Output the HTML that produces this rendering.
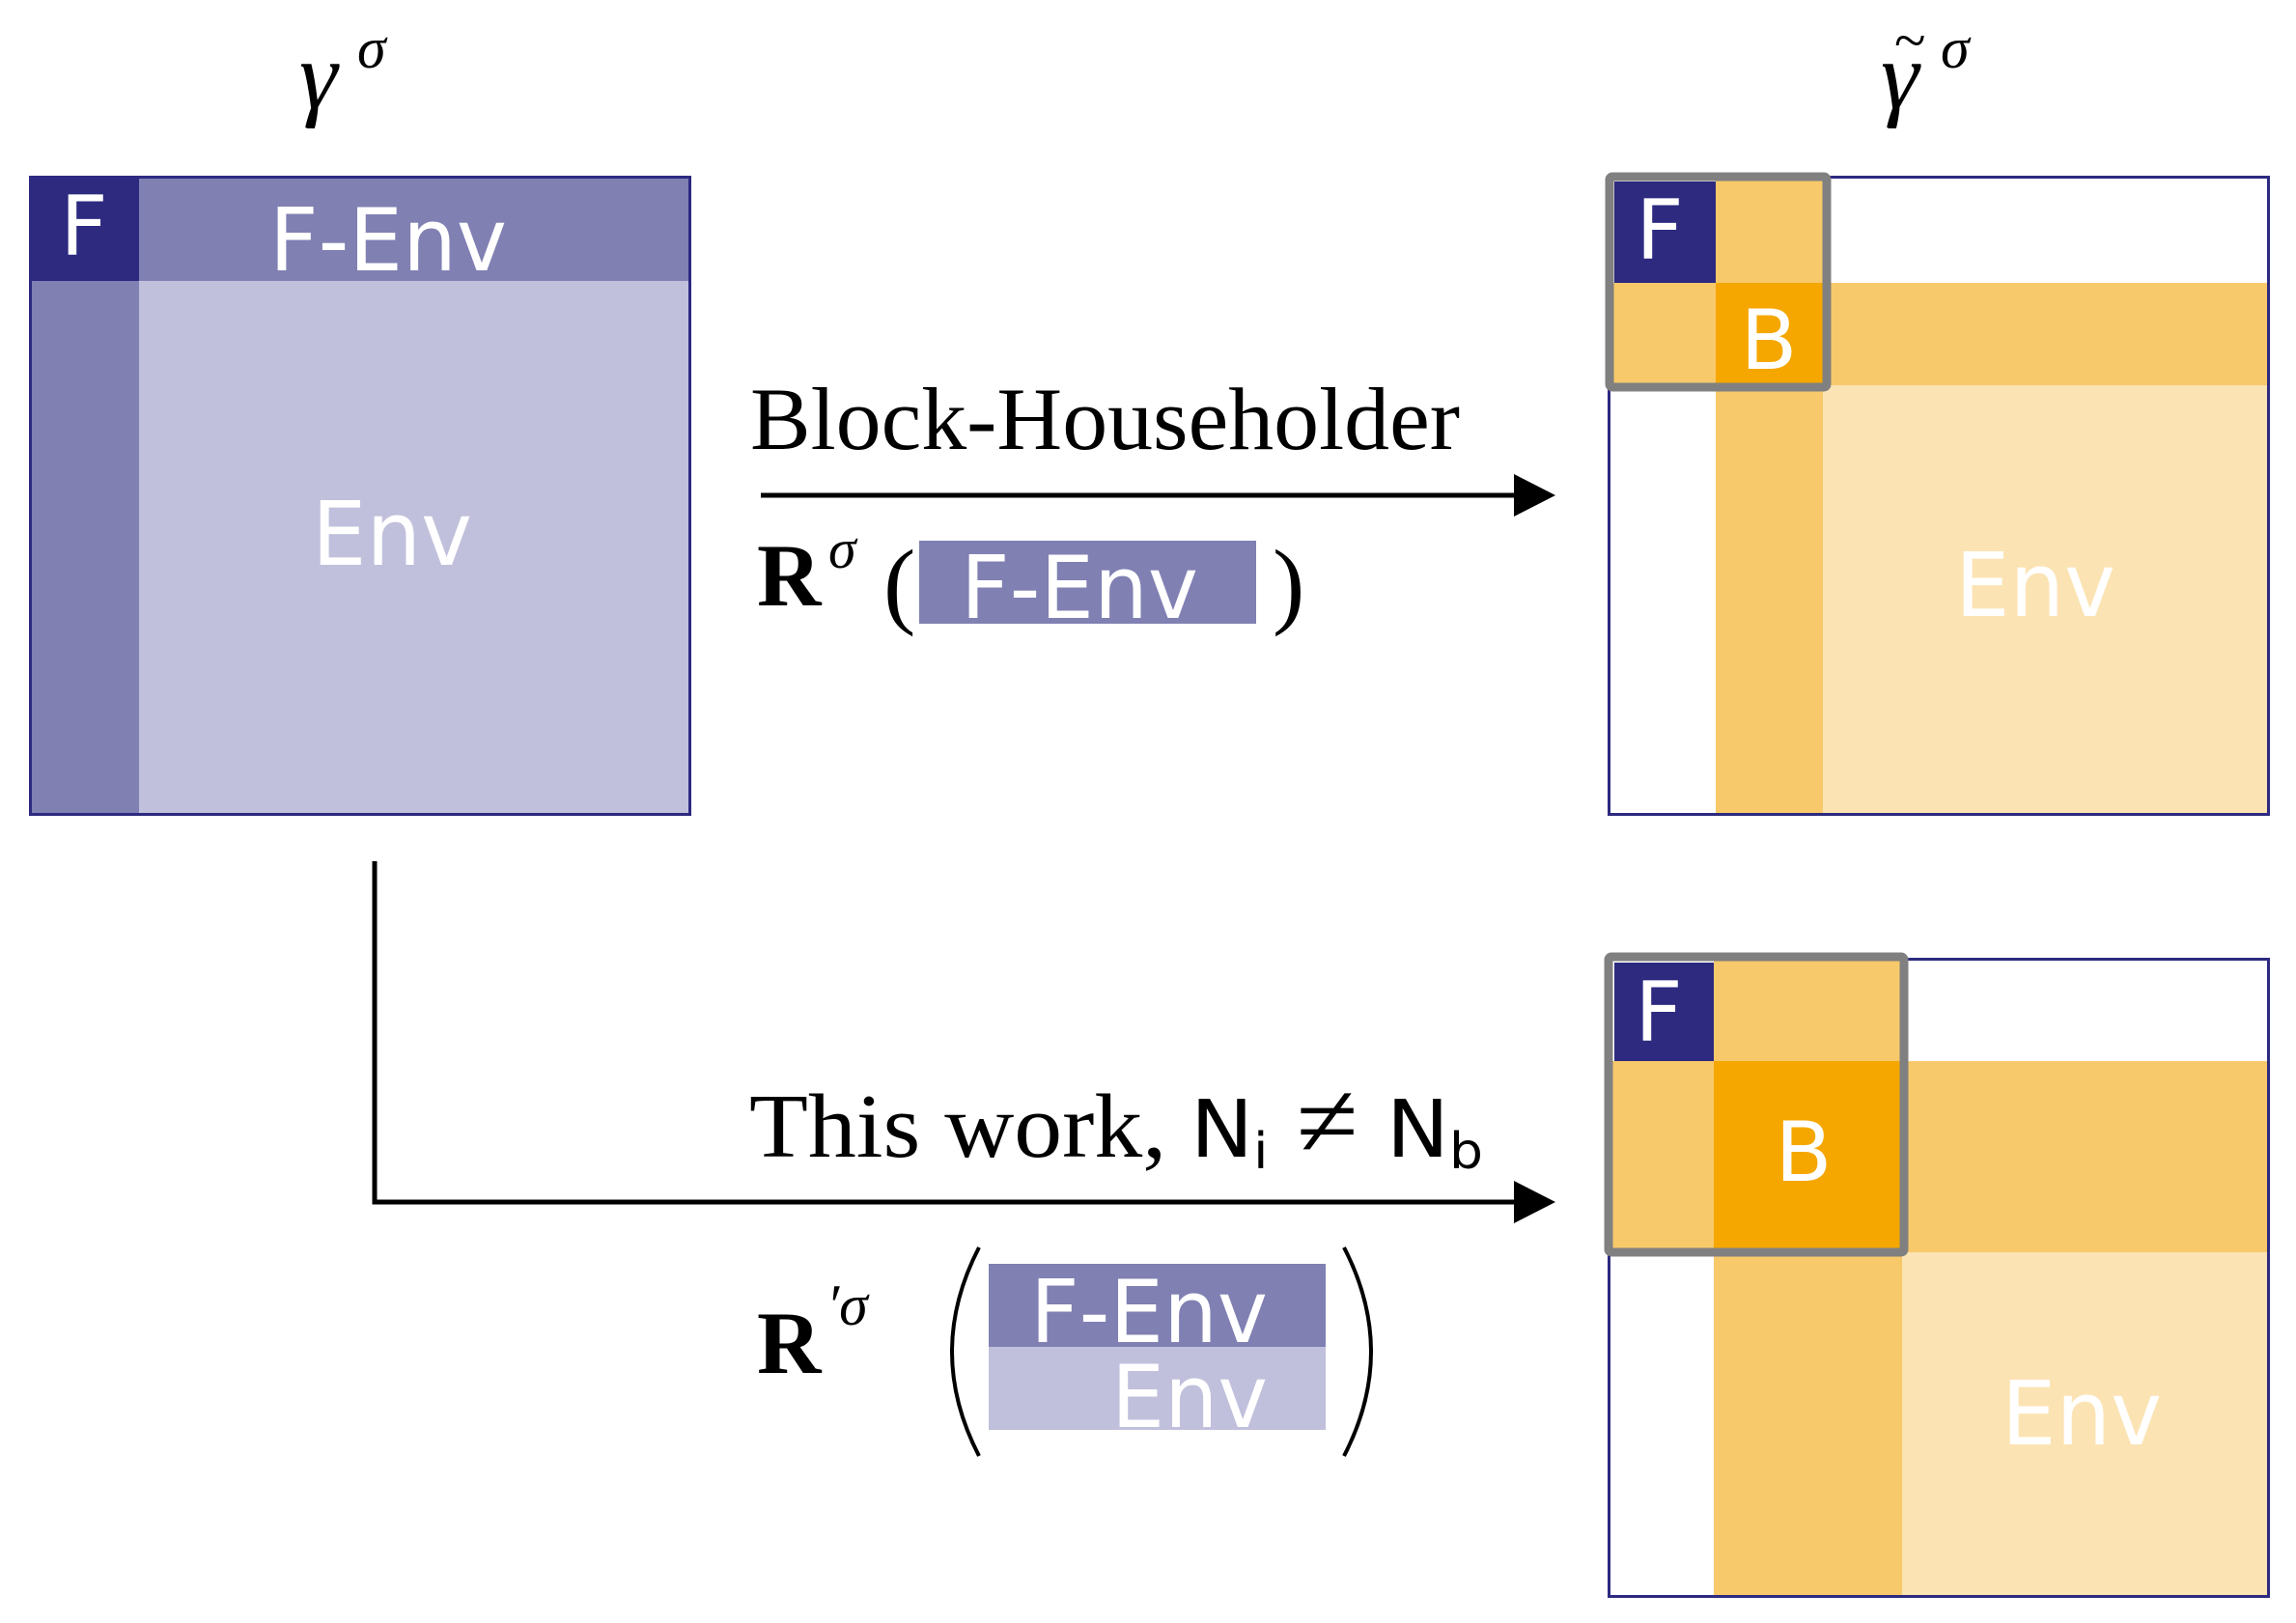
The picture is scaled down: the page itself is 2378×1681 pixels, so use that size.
<!DOCTYPE html>
<html><head><meta charset="utf-8"><style>
html,body{margin:0;padding:0;background:#fff;}
svg{display:block;}
.s{font-family:"DejaVu Sans","Liberation Sans",sans-serif;fill:#fff;}
.m{font-family:"Liberation Serif",serif;fill:#000;}
</style></head><body>
<svg width="2378" height="1681" viewBox="0 0 2378 1681" xmlns="http://www.w3.org/2000/svg">
<!-- left matrix -->
<rect x="30" y="182" width="686" height="663" fill="#c0c0dc"/>
<rect x="30" y="182" width="686" height="109" fill="#8080b3"/>
<rect x="30" y="182" width="114" height="663" fill="#8080b3"/>
<rect x="30" y="182" width="114" height="109" fill="#2d2a80"/>
<rect x="31.5" y="183.5" width="683" height="660" fill="none" stroke="#2d2a80" stroke-width="3"/>
<text class="s" x="87" y="264" font-size="86" text-anchor="middle">F</text>
<text class="s" x="402" y="280" font-size="90" text-anchor="middle" textLength="246" lengthAdjust="spacingAndGlyphs">F-Env</text>
<text class="s" x="406" y="585" font-size="92" text-anchor="middle" textLength="166" lengthAdjust="spacingAndGlyphs">Env</text>
<!-- gamma sigma -->
<text class="m" x="310" y="112" font-size="100" font-style="italic">γ</text>
<text class="m" x="370" y="70" font-size="60" font-style="italic">σ</text>
<text class="m" x="1948" y="112" font-size="100" font-style="italic">γ</text>
<text class="m" x="1962" y="62" font-size="60">~</text>
<text class="m" x="2010" y="70" font-size="60" font-style="italic">σ</text>

<!-- top right matrix -->
<rect x="1665" y="182" width="686" height="663" fill="#fff"/>
<rect x="1888" y="399" width="463" height="446" fill="#fbe3b3"/>
<rect x="1777" y="182" width="111" height="663" fill="#f8c96a"/>
<rect x="1665" y="293" width="686" height="106" fill="#f8c96a"/>
<rect x="1777" y="293" width="111" height="106" fill="#f5a700"/>
<rect x="1672" y="188" width="105" height="105" fill="#2d2a80"/>
<rect x="1666.5" y="183.5" width="683" height="660" fill="none" stroke="#2d2a80" stroke-width="3"/>
<rect x="1667" y="183" width="225" height="218" fill="none" stroke="#808080" stroke-width="9" rx="3"/>
<text class="s" x="1719" y="268" font-size="86" text-anchor="middle">F</text>
<text class="s" x="1832" y="382" font-size="86" text-anchor="middle">B</text>
<text class="s" x="2108" y="638" font-size="92" text-anchor="middle" textLength="166" lengthAdjust="spacingAndGlyphs">Env</text>

<!-- bottom right matrix -->
<rect x="1665" y="993" width="686" height="662" fill="#fff"/>
<rect x="1970" y="1297" width="381" height="358" fill="#fbe3b3"/>
<rect x="1775" y="993" width="195" height="662" fill="#f8c96a"/>
<rect x="1665" y="1099" width="686" height="198" fill="#f8c96a"/>
<rect x="1775" y="1099" width="195" height="198" fill="#f5a700"/>
<rect x="1672" y="997" width="103" height="102" fill="#2d2a80"/>
<rect x="1666.5" y="993.5" width="683" height="660" fill="none" stroke="#2d2a80" stroke-width="3"/>
<rect x="1666" y="991" width="306" height="306" fill="none" stroke="#808080" stroke-width="9" rx="3"/>
<text class="s" x="1718" y="1078" font-size="86" text-anchor="middle">F</text>
<text class="s" x="1868" y="1223" font-size="86" text-anchor="middle">B</text>
<text class="s" x="2156" y="1496" font-size="92" text-anchor="middle" textLength="166" lengthAdjust="spacingAndGlyphs">Env</text>

<!-- top arrow -->
<text class="m" x="777" y="465" font-size="92" textLength="735" lengthAdjust="spacingAndGlyphs">Block-Householder</text>
<line x1="788" y1="513" x2="1575" y2="513" stroke="#000" stroke-width="5"/>
<polygon points="1568,491 1611,513 1568,535" fill="#000"/>
<text class="m" x="784" y="627" font-size="92" font-weight="bold">R</text>
<text class="m" x="858" y="588" font-size="58" font-style="italic">σ</text>
<text class="m" x="915" y="638" font-size="100">(</text>
<rect x="952" y="560" width="349" height="86" fill="#8080b3"/>
<text class="s" x="1118" y="640" font-size="90" text-anchor="middle" textLength="246" lengthAdjust="spacingAndGlyphs">F-Env</text>
<text class="m" x="1318" y="638" font-size="100">)</text>

<!-- bottom arrow -->
<polyline points="388,892 388,1245 1575,1245" fill="none" stroke="#000" stroke-width="5"/>
<polygon points="1568,1223 1611,1245 1568,1267" fill="#000"/>
<text class="m" x="776" y="1198" font-size="94" textLength="760" lengthAdjust="spacingAndGlyphs">This work, <tspan font-family="DejaVu Sans,sans-serif" font-size="82">N</tspan><tspan font-family="DejaVu Sans,sans-serif" font-size="52" dy="12">i</tspan><tspan dy="-12" font-size="110"> ≠ </tspan><tspan font-family="DejaVu Sans,sans-serif" font-size="82">N</tspan><tspan font-family="DejaVu Sans,sans-serif" font-size="52" dy="12">b</tspan></text>
<text class="m" x="784" y="1422" font-size="92" font-weight="bold">R</text>
<text class="m" x="856" y="1372" font-size="60" font-style="italic">′σ</text>
<path d="M1014,1292 Q958,1400 1014,1508" fill="none" stroke="#000" stroke-width="4"/>
<path d="M1392,1292 Q1448,1400 1392,1508" fill="none" stroke="#000" stroke-width="4"/>
<rect x="1024" y="1309" width="349" height="86" fill="#8080b3"/>
<rect x="1024" y="1395" width="349" height="86" fill="#c0c0dc"/>
<text class="s" x="1190" y="1390" font-size="90" text-anchor="middle" textLength="246" lengthAdjust="spacingAndGlyphs">F-Env</text>
<text class="s" x="1232" y="1478" font-size="90" text-anchor="middle" textLength="162" lengthAdjust="spacingAndGlyphs">Env</text>
</svg>
</body></html>
